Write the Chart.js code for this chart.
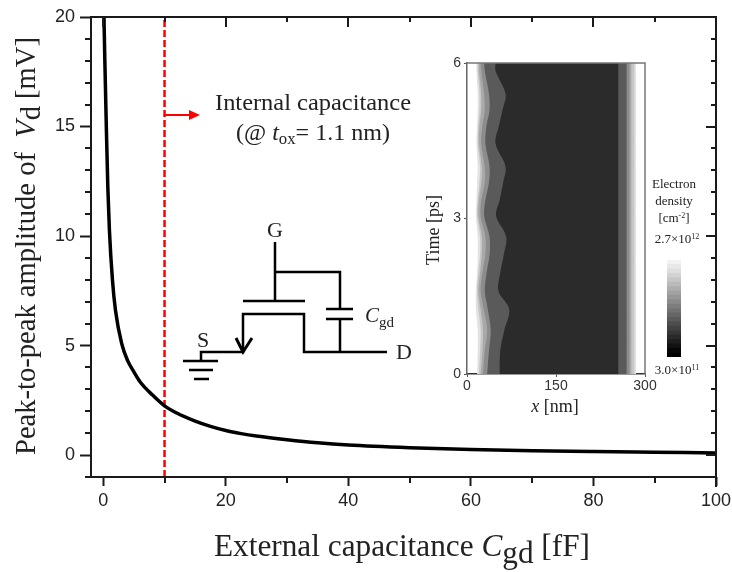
<!DOCTYPE html>
<html>
<head>
<meta charset="utf-8">
<script src="https://cdn.jsdelivr.net/npm/chart.js@4"></script>
<style>
    html, body { margin: 0; background: #fff; }
    #page { position: relative; width: 732px; height: 572px; overflow: hidden; }
    canvas { position: absolute; }
    svg { position: absolute; left: 0; top: 0; }
    svg text { font-family: "Liberation Serif", serif; fill: #222; }
    svg .circuit { stroke: #000; stroke-width: 2.5; fill: none; }
</style>
</head>
<body>
<div id="page">
    <canvas id="mainChart" width="732" height="572" style="left:0;top:0"></canvas>
    <canvas id="insetChart" width="240" height="350" style="left:425px;top:50px"></canvas>
    <canvas id="colorbarChart" width="14" height="97" style="left:667px;top:260px"></canvas>

    <svg width="732" height="572" xmlns="http://www.w3.org/2000/svg">
        <!-- axis titles -->
        <text x="214" y="556" font-size="31" textLength="376" lengthAdjust="spacingAndGlyphs">External capacitance <tspan font-style="italic">C</tspan><tspan dy="7">gd</tspan><tspan dy="-7"> [fF]</tspan></text>
        <text transform="translate(35,455) rotate(-90)" font-size="29" textLength="418" lengthAdjust="spacingAndGlyphs">Peak-to-peak amplitude of&#160;&#160;<tspan font-style="italic">V</tspan><tspan dy="5">d</tspan><tspan dy="-5"> [mV]</tspan></text>

        <!-- internal capacitance note -->
        <line x1="164" y1="115" x2="192" y2="115" stroke="#f00" stroke-width="2"/>
        <polygon points="189,110 200,115 189,120" fill="#f00"/>
        <text x="215" y="110" font-size="23" textLength="196" lengthAdjust="spacingAndGlyphs">Internal capacitance</text>
        <text x="236" y="140" font-size="23" textLength="154" lengthAdjust="spacingAndGlyphs">(@ <tspan font-style="italic">t</tspan><tspan font-size="16" dy="4">ox</tspan><tspan dy="-4">= 1.1 nm)</tspan></text>

        <!-- circuit -->
        <g class="circuit">
            <path d="M275 242V301M275 272H340V309M326 309H353M326 319H353M340 319V352"/>
            <path d="M243 301H305M201 361V352H243V314H304V352H387"/>
            <path d="M183 361H218M189 370H213M194 379H209"/>
            <path d="M236 338L243 352L252 338" stroke-width="3"/>
        </g>
        <text x="275" y="237" font-size="22" text-anchor="middle">G</text>
        <text x="203" y="347" font-size="22" text-anchor="middle">S</text>
        <text x="404" y="359" font-size="22" text-anchor="middle">D</text>
        <text x="365" y="322" font-size="21"><tspan font-style="italic">C</tspan><tspan font-size="15" dy="5">gd</tspan></text>

        <!-- inset labels -->
        <text transform="translate(439,265) rotate(-90)" font-size="18" textLength="70" lengthAdjust="spacingAndGlyphs">Time [ps]</text>
        <text x="555" y="412" font-size="18" text-anchor="middle"><tspan font-style="italic">x</tspan> [nm]</text>
        <g font-size="13" text-anchor="middle">
            <text x="674" y="188">Electron</text>
            <text x="674" y="205">density</text>
            <text x="674" y="222">[cm<tspan font-size="8" dy="-4">-2</tspan><tspan dy="4">]</tspan></text>
            <text x="677" y="243">2.7×10<tspan font-size="8" dy="-4">12</tspan></text>
            <text x="677" y="374">3.0×10<tspan font-size="8" dy="-4">11</tspan></text>
        </g>
    </svg>
</div>

<script>
// main curve
const capacitance = [0, 0.15, 0.3, 0.5, 0.75, 1, 1.5, 2, 3, 4, 5, 6, 8, 10, 12, 15, 17.5, 20, 22.5, 25, 30, 35, 40, 50, 60, 70, 80, 90, 100];
const amplitude = [22, 19.5, 17.5, 15, 12.2, 10.3, 8, 6.6, 5.1, 4.3, 3.8, 3.35, 2.75, 2.25, 1.92, 1.55, 1.31, 1.12, 0.98, 0.87, 0.7, 0.56, 0.46, 0.34, 0.26, 0.2, 0.16, 0.13, 0.1];
const internalCap = 10;

const xMajorTicks = [0, 20, 40, 60, 80, 100];
const xMinorTicks = [10, 30, 50, 70, 90];
const yMajorTicks = [0, 5, 10, 15, 20];
const yMinorTicks = [-1, 1, 2, 3, 4, 6, 7, 8, 9, 11, 12, 13, 14, 16, 17, 18, 19];

// inset contours: left edge of each grey band [nm] at each time [ps]
const insetTimes = [0, 0.45, 0.85, 1.25, 1.6, 1.95, 2.3, 2.65, 3.05, 3.35, 3.7, 4.0, 4.45, 4.8, 5.1, 5.4, 5.85, 6];
const contourDark = [55, 56, 63, 71, 53, 56, 62, 66, 49, 55, 61, 65, 48, 54, 60, 65, 48, 48];
const contour5 = [34, 37, 40, 35, 30, 33, 38, 38, 29, 31, 37, 38, 31, 33, 38, 37, 30, 29];
const contour4 = [27, 30, 34, 28, 23, 26, 31, 31, 23, 24, 30, 30, 24, 26, 30, 29, 24, 23];
const contour3 = [23, 26, 27, 23, 19, 22, 25, 25, 19, 20, 24, 25, 20, 21, 24, 24, 20, 20];
const contour2 = [20, 22, 23, 19, 17, 19, 22, 22, 17, 18, 21, 22, 18, 19, 21, 21, 18, 18];
const contour1 = [17, 18, 18, 15, 15, 17, 18, 18, 15, 16, 17, 18, 16, 17, 18, 18, 16, 16];
const rightEdges = [255, 269, 274, 277, 282, 285];
const bandGreys = ['#2b2b2b', '#5a5a5a', '#8c8c8c', '#a8a8a8', '#c6c6c6', '#e2e2e2'];

// colorbar steps, top to bottom
const colorbarGreys = ['#f2f2f2', '#e8e8e8', '#dedede', '#d2d2d2', '#c6c6c6', '#bababa', '#aeaeae', '#a2a2a2', '#969696', '#8a8a8a', '#7e7e7e', '#727272', '#666666', '#5a5a5a', '#4e4e4e', '#424242', '#363636', '#2a2a2a', '#1e1e1e', '#121212', '#060606', '#000000'];

const INK = '#1a1a1a';

function bandPolygon(contour, rightEdge) {
    // runs past the time range so the rounded corners get clipped away
    const pts = insetTimes.map((t, i) => ({x: contour[i], y: t}));
    const first = contour[0], last = contour[contour.length - 1];
    pts.push({x: last, y: 6.8}, {x: rightEdge, y: 6.8}, {x: rightEdge, y: 6.4}, {x: rightEdge, y: 3}, {x: rightEdge, y: -0.4}, {x: rightEdge, y: -0.8}, {x: first, y: -0.8});
    return pts;
}

// frame plus the short ticks that Chart.js has no option for
const frameTicks = {
    id: 'frameTicks',
    afterDraw(chart) {
        const {ctx, chartArea: a, scales: {x, y}} = chart;
        ctx.save();
        ctx.strokeStyle = INK;
        ctx.lineWidth = 2;
        const seg = (x1, y1, x2, y2) => {
            ctx.beginPath();
            ctx.moveTo(x1, y1);
            ctx.lineTo(x2, y2);
            ctx.stroke();
        };
        seg(a.left, a.top, a.right + 1, a.top);
        seg(a.right, a.top, a.right, a.bottom + 10);
        seg(a.left - 5, a.bottom, a.right, a.bottom);
        yMinorTicks.forEach(v => {
            const p = Math.round(y.getPixelForValue(v));
            seg(a.left - 6, p, a.left, p);
            seg(a.right - 5, p, a.right, p);
        });
        yMajorTicks.forEach(v => {
            const p = Math.round(y.getPixelForValue(v));
            seg(a.right - 10, p, a.right, p);
        });
        xMinorTicks.forEach(v => {
            const p = Math.round(x.getPixelForValue(v));
            seg(p, a.bottom, p, a.bottom + 6);
            seg(p, a.top, p, a.top + 5);
        });
        xMajorTicks.forEach(v => {
            const p = Math.round(x.getPixelForValue(v));
            seg(p, a.top, p, a.top + 10);
        });
        ctx.restore();
    }
};

new Chart(document.getElementById('mainChart'), {
    type: 'scatter',
    data: {
        datasets: [
            {
                data: capacitance.map((c, i) => ({x: c, y: amplitude[i]})),
                showLine: true,
                borderColor: '#000',
                borderWidth: 3.5,
                pointRadius: 0,
                cubicInterpolationMode: 'monotone'
            },
            {
                data: [{x: internalCap, y: -1}, {x: internalCap, y: 20}],
                showLine: true,
                borderColor: '#f00',
                borderWidth: 2.5,
                borderDash: [7, 3],
                pointRadius: 0
            }
        ]
    },
    plugins: [frameTicks],
    options: {
        responsive: false,
        animation: false,
        layout: {padding: {top: 17, right: 16}},
        plugins: {legend: {display: false}, tooltip: {enabled: false}},
        scales: {
            x: {
                min: -2,
                max: 100,
                afterBuildTicks: s => { s.ticks = xMajorTicks.map(v => ({value: v})); },
                afterFit: s => { s.height = 95; s.paddingLeft = 0; s.paddingRight = 0; },
                ticks: {font: {family: 'Liberation Sans', size: 18}, color: '#222', maxRotation: 0, padding: 4},
                grid: {drawOnChartArea: false, tickLength: 9, tickWidth: 2, tickColor: INK},
                border: {display: false}
            },
            y: {
                min: -1,
                max: 20,
                afterBuildTicks: s => { s.ticks = yMajorTicks.map(v => ({value: v})); },
                afterFit: s => { s.width = 91; },
                ticks: {font: {family: 'Liberation Sans', size: 18}, color: '#222', padding: 5},
                grid: {drawOnChartArea: false, tickLength: 11, tickWidth: 2, tickColor: INK},
                border: {color: INK, width: 2}
            }
        }
    }
});

// first dataset ends up on top, so the dark centre goes first
const insetContours = [contourDark, contour5, contour4, contour3, contour2, contour1];

new Chart(document.getElementById('insetChart'), {
    type: 'scatter',
    data: {
        datasets: insetContours.map((contour, i) => ({
            data: bandPolygon(contour, rightEdges[i]),
            showLine: true,
            fill: 'shape',
            backgroundColor: bandGreys[i],
            borderWidth: 0,
            pointRadius: 0,
            tension: 0.35,
            capBezierPoints: false
        }))
    },
    options: {
        responsive: false,
        animation: false,
        layout: {padding: {top: 13, right: 20}},
        plugins: {legend: {display: false}, tooltip: {enabled: false}},
        scales: {
            x: {
                min: 0,
                max: 300,
                afterBuildTicks: s => { s.ticks = [0, 150, 300].map(v => ({value: v})); },
                afterFit: s => { s.height = 26; s.paddingLeft = 0; s.paddingRight = 0; },
                ticks: {font: {family: 'Liberation Sans', size: 14}, color: '#333', maxRotation: 0, padding: 1},
                grid: {drawOnChartArea: false, tickLength: 3, tickColor: '#555'},
                border: {color: '#333', width: 1.5}
            },
            y: {
                min: 0,
                max: 6,
                afterBuildTicks: s => { s.ticks = [0, 3, 6].map(v => ({value: v})); },
                afterFit: s => { s.width = 42; },
                ticks: {font: {family: 'Liberation Sans', size: 14}, color: '#333', padding: 3},
                grid: {drawOnChartArea: false, tickLength: 3, tickColor: '#555'},
                border: {color: '#666', width: 1.5}
            }
        }
    },
    plugins: [{
        id: 'insetFrame',
        afterDraw(chart) {
            const {ctx, chartArea: a} = chart;
            ctx.save();
            ctx.strokeStyle = '#777';
            ctx.lineWidth = 1.5;
            ctx.beginPath();
            ctx.moveTo(a.left, a.top);
            ctx.lineTo(a.right, a.top);
            ctx.lineTo(a.right, a.bottom);
            ctx.stroke();
            ctx.restore();
        }
    }]
});

new Chart(document.getElementById('colorbarChart'), {
    type: 'bar',
    data: {
        labels: colorbarGreys.map((g, i) => i),
        datasets: [{
            data: colorbarGreys.map(() => 1),
            backgroundColor: colorbarGreys,
            barPercentage: 1,
            categoryPercentage: 1
        }]
    },
    options: {
        indexAxis: 'y',
        responsive: false,
        animation: false,
        plugins: {legend: {display: false}, tooltip: {enabled: false}},
        scales: {
            x: {display: false, min: 0, max: 1},
            y: {display: false}
        }
    }
});
</script>
</body>
</html>
